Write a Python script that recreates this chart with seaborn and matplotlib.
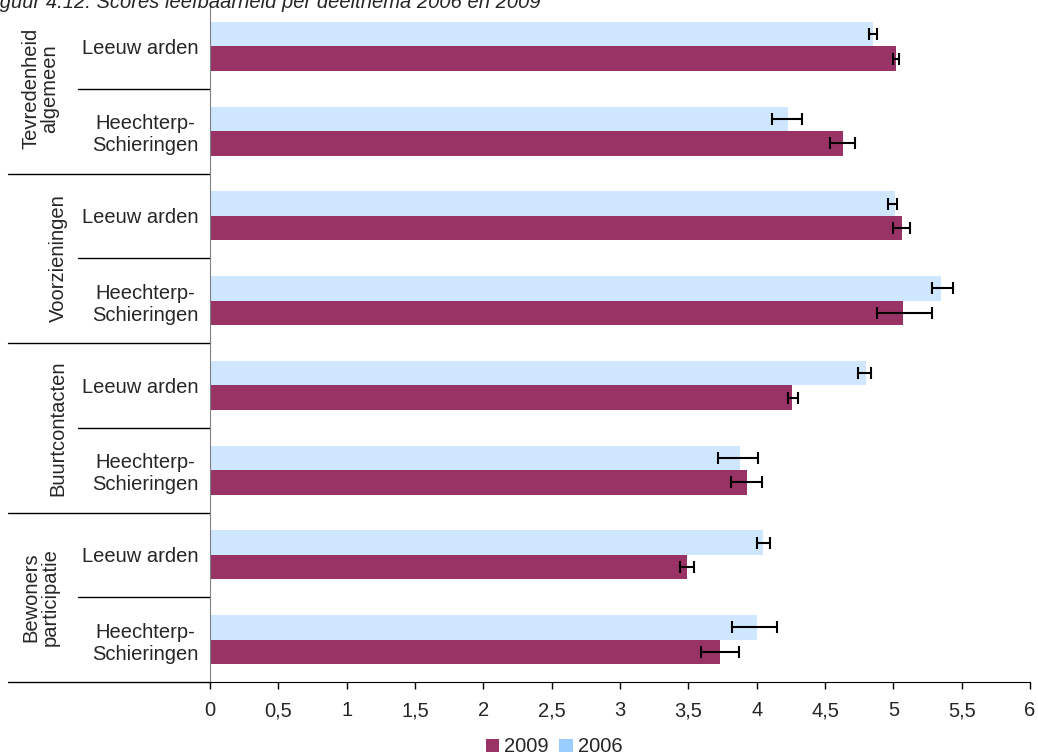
import pandas as pd
import matplotlib.pyplot as plt
import matplotlib.transforms as mtransforms
from matplotlib.patches import Patch
import seaborn as sns

# themes and areas (each theme has two areas)
groups = ["Tevredenheid\nalgemeen", "Voorzieningen", "Buurtcontacten", "Bewoners\nparticipatie"]
areas = ["Leeuw arden", "Heechterp-\nSchieringen"]
years = ["2006", "2009"]

# scores (rows top to bottom)
val_2006 = [4.85, 4.23, 5.01, 5.35, 4.80, 3.88, 4.05, 4.00]
val_2009 = [5.02, 4.63, 5.06, 5.07, 4.26, 3.93, 3.49, 3.73]

# error bar ranges (low, high) per row
err_2006_lo = [4.82, 4.11, 4.96, 5.28, 4.74, 3.72, 4.00, 3.82]
err_2006_hi = [4.88, 4.33, 5.03, 5.44, 4.84, 4.01, 4.10, 4.15]
err_2009_lo = [5.00, 4.54, 5.00, 4.88, 4.23, 3.81, 3.44, 3.59]
err_2009_hi = [5.04, 4.72, 5.12, 5.28, 4.30, 4.04, 3.54, 3.87]

xticks = [0, 0.5, 1, 1.5, 2, 2.5, 3, 3.5, 4, 4.5, 5, 5.5, 6]

title = "Figuur 4.12: Scores leefbaarheid per deelthema 2006 en 2009"

C_2006 = "#cfe6ff"
C_2006_LEG = "#99ccff"
C_2009 = "#993366"
FS = 14.5

sns.set_style("white")
plt.rcParams["font.family"] = ["Liberation Sans", "DejaVu Sans"]

row_ids = [f"{g}|{a}" for g in groups for a in areas]
df = pd.DataFrame({
    "row": row_ids * 2,
    "year": ["2006"] * len(row_ids) + ["2009"] * len(row_ids),
    "value": val_2006 + val_2009,
})

fig = plt.figure(figsize=(10.38, 7.55), dpi=100)
ax = fig.add_axes([210 / 1038, 73 / 755, 820 / 1038, 678 / 755])

sns.barplot(data=df, y="row", x="value", hue="year", hue_order=years,
            order=row_ids, palette={"2006": C_2006, "2009": C_2009},
            orient="h", width=0.58, errorbar=None, saturation=1,
            legend=False, ax=ax)

errs = {"2006": (err_2006_lo, err_2006_hi), "2009": (err_2009_lo, err_2009_hi)}
for cont, yr in zip(ax.containers, years):
    lo, hi = errs[yr]
    for bar, l, h in zip(cont, lo, hi):
        bar.set_linewidth(0)
        yc = bar.get_y() + bar.get_height() / 2
        ax.errorbar((l + h) / 2, yc, xerr=(h - l) / 2, fmt="none",
                    ecolor="black", elinewidth=1.5, capsize=4, capthick=1.5)

ax.set_xlim(0, 6)
ax.set_ylim(len(row_ids) - 0.5, -0.5)
ax.set_xticks(xticks)
ax.set_xticklabels([f"{t:g}".replace(".", ",") for t in xticks], fontsize=FS)
ax.set_yticks(range(len(row_ids)))
ax.set_yticklabels(areas * len(groups), fontsize=FS, multialignment="center")
ax.tick_params(axis="y", length=0, pad=8)
ax.tick_params(axis="x", length=5, width=1, color="black", pad=9, direction="out", bottom=True)
ax.set_xlabel("")
ax.set_ylabel("")

for s in ["top", "right"]:
    ax.spines[s].set_visible(False)
ax.spines["left"].set_color("#808080")
ax.spines["bottom"].set_color("black")

# separators for the category column on the left
trans = mtransforms.blended_transform_factory(ax.transAxes, ax.transData)
for i in range(len(row_ids)):
    b = i + 0.5
    x0 = -0.2463 if i % 2 == 1 else -0.161
    ax.plot([x0, 0], [b, b], color="black", lw=1, transform=trans, clip_on=False)

for gi, g in enumerate(groups):
    xc = -0.207 if "\n" in g else -0.1854
    ax.text(xc, gi * 2 + 0.5, g, rotation=90, ha="center", va="center",
            fontsize=FS, transform=trans, multialignment="center", linespacing=1.0)

# caption above the chart, cut off at the top as in the source
fig.text(-0.0164, 1 - 8.5 / 755, title, fontsize=FS, style="italic",
         ha="left", va="baseline")

handles = [Patch(facecolor=C_2009, edgecolor="none"), Patch(facecolor=C_2006_LEG, edgecolor="none")]
fig.legend(handles, ["2009", "2006"], loc="center", bbox_to_anchor=(554 / 1038, 1 - 747 / 755),
           ncol=2, frameon=False, fontsize=FS, handlelength=0.68, handleheight=0.68,
           handletextpad=0.25, columnspacing=0.5, borderaxespad=0, borderpad=0)

fig.savefig("out.png", dpi=100)
plt.close(fig)
